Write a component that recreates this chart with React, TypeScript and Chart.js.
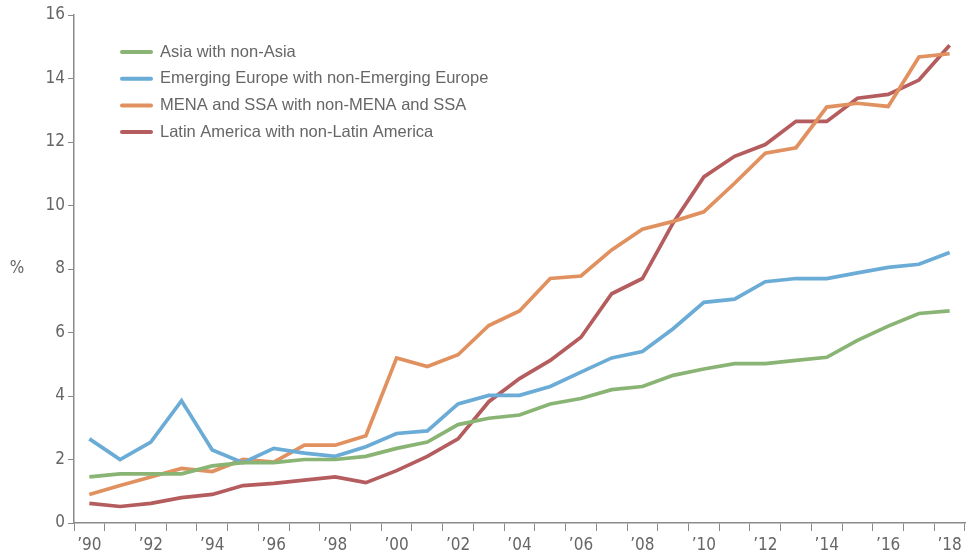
import React, { useEffect, useRef } from "react";
import { Chart, registerables } from "chart.js";

Chart.register(...registerables);

const years = [
  "1990","1991","1992","1993","1994","1995","1996","1997","1998","1999",
  "2000","2001","2002","2003","2004","2005","2006","2007","2008","2009",
  "2010","2011","2012","2013","2014","2015","2016","2017","2018",
];

const asia = [1.45,1.55,1.55,1.55,1.8,1.9,1.9,2.0,2.0,2.1,2.35,2.55,3.1,3.3,3.4,3.75,3.92,4.2,4.3,4.65,4.85,5.02,5.02,5.12,5.22,5.75,6.2,6.6,6.68];
const emergingEurope = [2.65,2.0,2.55,3.85,2.3,1.9,2.35,2.2,2.1,2.4,2.82,2.9,3.75,4.02,4.02,4.3,4.75,5.2,5.4,6.12,6.95,7.05,7.6,7.7,7.7,7.88,8.05,8.15,8.52];
const menaSsa = [0.9,1.18,1.45,1.72,1.62,2.0,1.92,2.45,2.45,2.75,5.2,4.93,5.3,6.22,6.68,7.7,7.78,8.6,9.25,9.5,9.8,10.7,11.65,11.82,13.1,13.22,13.12,14.68,14.78];
const latinAmerica = [0.62,0.52,0.62,0.8,0.9,1.18,1.25,1.35,1.45,1.27,1.65,2.1,2.65,3.82,4.55,5.12,5.85,7.22,7.7,9.45,10.9,11.55,11.92,12.65,12.65,13.38,13.5,13.95,15.05];

const seriesLabels = [
  "Asia with non-Asia",
  "Emerging Europe with non-Emerging Europe",
  "MENA and SSA with non-MENA and SSA",
  "Latin America with non-Latin America",
];
const seriesColors = ["#89b474", "#6bacd6", "#e1915f", "#b55c5e"];

const yTicks = [0, 2, 4, 6, 8, 10, 12, 14, 16];
const yAxisUnit = "%";

const tickFont = "'Liberation Sans Narrow', 'DejaVu Sans Condensed', sans-serif";
const legendFont = "'Liberation Sans', Arial, sans-serif";
const textColor = "#666666";
const axisColor = "#8a8a8a";

const overlayPlugin = {
  id: "overlay",
  afterDraw(chart: any) {
    const ctx = chart.ctx;
    const area = chart.chartArea;
    ctx.save();
    ctx.fillStyle = textColor;
    ctx.font = `17px ${tickFont}`;
    ctx.textAlign = "center";
    ctx.textBaseline = "middle";
    const yScale = chart.scales.y;
    ctx.fillText(yAxisUnit, 17, yScale.getPixelForValue(8));
    const x0 = area.left + 46;
    const y0 = area.top + 37;
    const step = 26.7;
    ctx.font = `16.5px ${legendFont}`;
    ctx.textAlign = "left";
    chart.data.datasets.forEach((ds: any, i: number) => {
      const y = y0 + i * step;
      ctx.strokeStyle = ds.borderColor;
      ctx.lineWidth = 4;
      ctx.lineCap = "round";
      ctx.beginPath();
      ctx.moveTo(x0 + 2, y);
      ctx.lineTo(x0 + 31, y);
      ctx.stroke();
      ctx.fillStyle = textColor;
      ctx.fillText(ds.label, x0 + 40, y);
    });
    ctx.restore();
  },
};

export default function App() {
  const ref = useRef<HTMLCanvasElement | null>(null);
  useEffect(() => {
    if (!ref.current) return;
    const seriesData = [asia, emergingEurope, menaSsa, latinAmerica];
    const chart = new Chart(ref.current, {
      type: "line",
      data: {
        labels: years,
        datasets: seriesData.map((d, i) => ({
          label: seriesLabels[i],
          data: d,
          borderColor: seriesColors[i],
          backgroundColor: seriesColors[i],
          borderWidth: 3.7,
          pointRadius: 0,
          tension: 0,
          fill: false,
        })),
      },
      options: {
        animation: false,
        responsive: false,
        maintainAspectRatio: false,
        layout: { padding: { top: 15, right: 3, left: 0, bottom: 0 } },
        plugins: {
          legend: { display: false },
          tooltip: { enabled: false },
        },
        scales: {
          x: {
            type: "category",
            offset: true,
            grid: {
              display: true,
              offset: true,
              drawOnChartArea: false,
              drawTicks: true,
              tickLength: 8,
              color: axisColor,
              lineWidth: 1,
            },
            border: { display: true, color: axisColor, width: 1.5 },
            ticks: {
              autoSkip: false,
              maxRotation: 0,
              minRotation: 0,
              color: textColor,
              font: { family: tickFont, size: 17 },
              padding: 4,
              callback: (_v: any, idx: number) =>
                idx % 2 === 0 ? "\u2019" + years[idx].slice(2) : "",
            },
            afterFit: (s: any) => {
              s.height = 35;
            },
          },
          y: {
            min: 0,
            max: 16,
            afterBuildTicks: (s: any) => {
              s.ticks = yTicks.map((v) => ({ value: v }));
            },
            grid: {
              display: true,
              drawOnChartArea: false,
              drawTicks: true,
              tickLength: 6,
              color: axisColor,
            },
            border: { display: true, color: axisColor, width: 1.5 },
            ticks: {
              color: textColor,
              font: { family: tickFont, size: 17 },
              padding: 3,
            },
            afterFit: (s: any) => {
              s.width = 74;
            },
          },
        },
      },
      plugins: [overlayPlugin],
    });
    return () => chart.destroy();
  }, []);
  return (
    <div style={{ position: "fixed", left: 0, top: 0, width: 968, height: 558, background: "#fff" }}>
      <canvas ref={ref} width={968} height={558} style={{ display: "block", width: 968, height: 558 }} />
    </div>
  );
}
